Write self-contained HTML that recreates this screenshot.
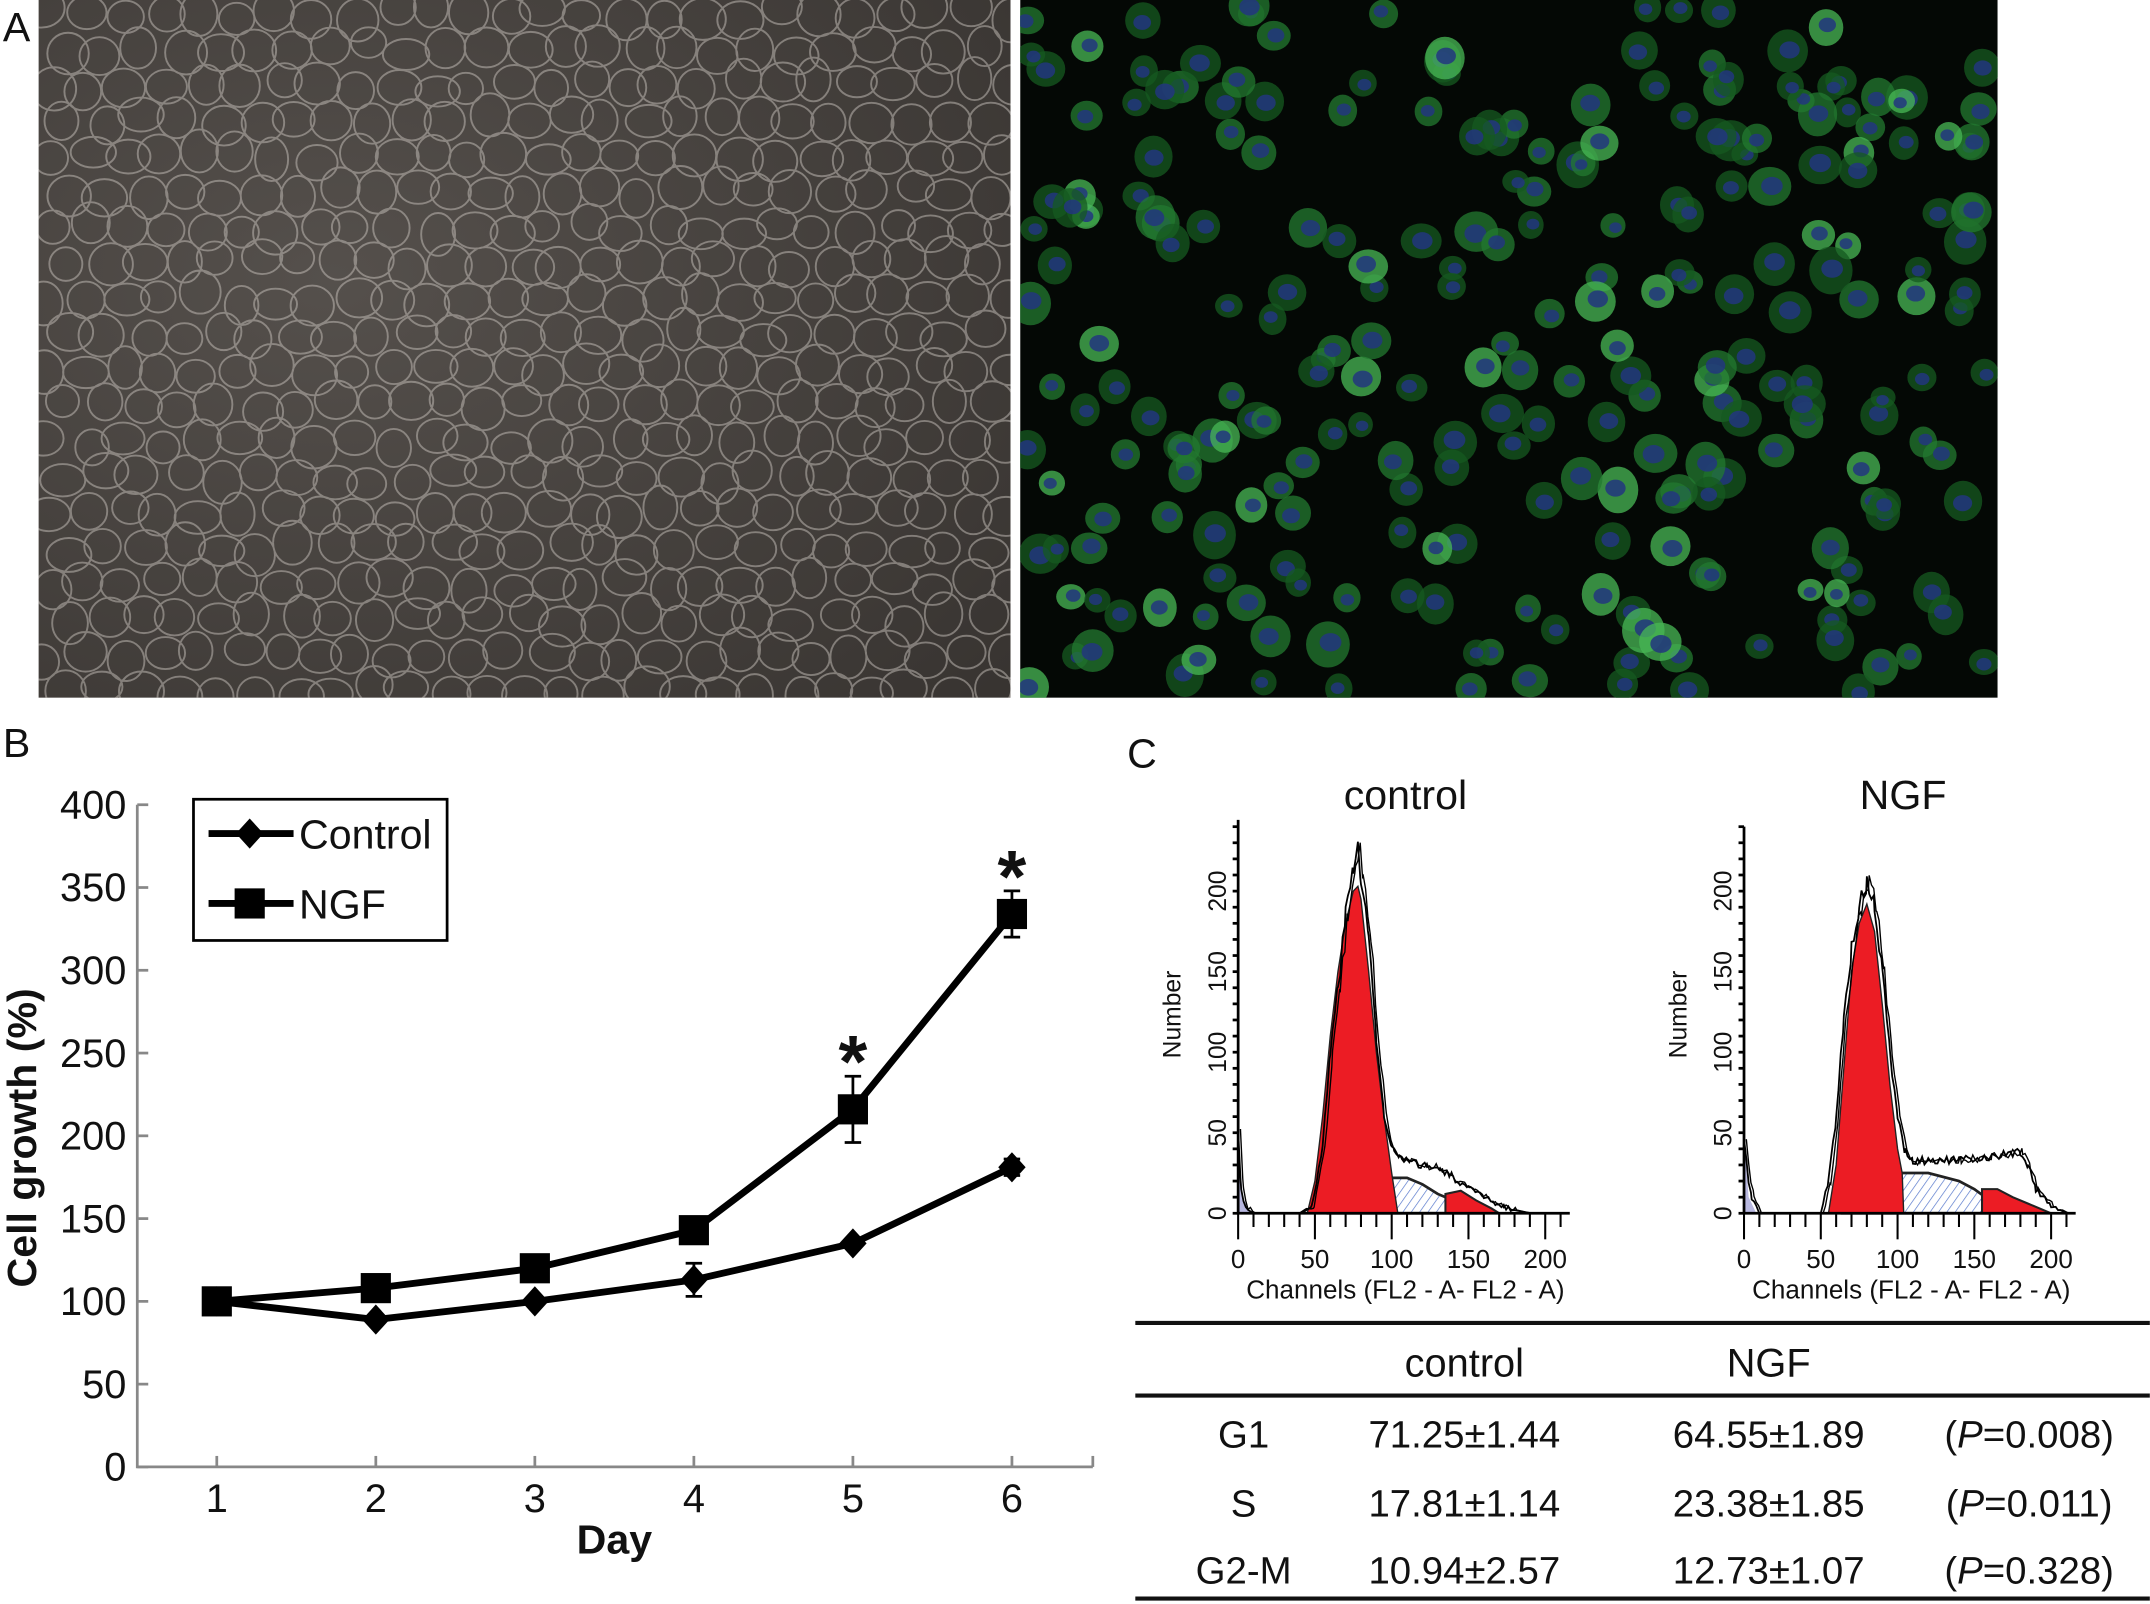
<!DOCTYPE html>
<html><head><meta charset="utf-8"><style>
html,body{margin:0;padding:0;background:#fff}
svg{display:block}
text{font-family:"Liberation Sans Narrow","Liberation Sans",sans-serif;fill:#111}
</style></head><body>
<svg id="fig" width="2150" height="1604" viewBox="0 0 1568 1170" xmlns="http://www.w3.org/2000/svg">
<defs>
<pattern id="hatch" patternUnits="userSpaceOnUse" width="5" height="5" patternTransform="rotate(35)">
<rect width="5" height="5" fill="#fff"/><line x1="0" y1="0" x2="0" y2="5" stroke="#5577cc" stroke-width="1"/></pattern>
<radialGradient id="phaseGrad" cx="0.3" cy="0.4" r="0.9"><stop offset="0" stop-color="#55504c"/><stop offset="1" stop-color="#383431"/></radialGradient>
<clipPath id="clipL"><rect x="28" y="0" width="709" height="509"/></clipPath>
<clipPath id="clipR"><rect x="744" y="0" width="713" height="509"/></clipPath>
</defs>
<text x="2" y="30" font-size="30">A</text>
<g id="micL" clip-path="url(#clipL)"><rect x="28" y="0" width="709" height="509" fill="url(#phaseGrad)"/></g>
<rect x="737" y="0" width="7" height="509" fill="#fff"/>
<g id="micR" clip-path="url(#clipR)"><rect x="744" y="0" width="713" height="509" fill="#040805"/></g>

<text x="2" y="552" font-size="30">B</text>
<g id="chartB"></g>

<text x="822" y="560" font-size="30">C</text>
<text x="1025" y="590" font-size="30" text-anchor="middle">control</text>
<text x="1388" y="590" font-size="30" text-anchor="middle">NGF</text>
<g id="histC"></g>
<g id="histN"></g>

<g font-size="28">
<line x1="828" y1="965" x2="1568" y2="965" stroke="#111" stroke-width="3"/>
<line x1="828" y1="1018" x2="1568" y2="1018" stroke="#111" stroke-width="3"/>
<line x1="828" y1="1166" x2="1568" y2="1166" stroke="#111" stroke-width="3"/>
<text x="1068" y="1004" text-anchor="middle" font-size="29">control</text>
<text x="1290" y="1004" text-anchor="middle" font-size="29">NGF</text>
<text x="907" y="1056" text-anchor="middle">G1</text>
<text x="1068" y="1056" text-anchor="middle">71.25±1.44</text>
<text x="1290" y="1056" text-anchor="middle">64.55±1.89</text>
<text x="1480" y="1056" text-anchor="middle">(<tspan font-style="italic">P</tspan>=0.008)</text>
<text x="907" y="1106" text-anchor="middle">S</text>
<text x="1068" y="1106" text-anchor="middle">17.81±1.14</text>
<text x="1290" y="1106" text-anchor="middle">23.38±1.85</text>
<text x="1480" y="1106" text-anchor="middle">(<tspan font-style="italic">P</tspan>=0.011)</text>
<text x="907" y="1155" text-anchor="middle">G2-M</text>
<text x="1068" y="1155" text-anchor="middle">10.94±2.57</text>
<text x="1290" y="1155" text-anchor="middle">12.73±1.07</text>
<text x="1480" y="1155" text-anchor="middle">(<tspan font-style="italic">P</tspan>=0.328)</text>
</g>
</svg>
<script>
// ---- chart B data ----
const days = [1, 2, 3, 4, 5, 6];
const controlValues = [100, 89, 100, 113, 135, 181];
const controlErrors = [0, 0, 0, 10, 0, 5];
const ngfValues = [100, 108, 120, 143, 216, 334];
const ngfErrors = [0, 0, 0, 0, 20, 14];
const yTicks = [0, 50, 100, 150, 200, 250, 300, 350, 400];
const sigDays = [5, 6];

// ---- histogram data (channel, count) ----
const ctlChannels = [0,2,5,10,40,48,55,60,65,70,75,78,80,85,90,95,100,105,110,120,130,140,150,160,170,180,190];
const ctlOutline  = [50,15,3,0,0,5,40,100,140,185,215,228,210,170,110,60,40,35,32,30,28,22,15,10,5,2,0];
const ctlG1Ch = [45,50,55,60,65,70,75,78,80,85,90,95,100,104];
const ctlG1   = [0,20,60,110,150,180,200,203,195,150,100,60,25,0];
const ctlSCh  = [60,70,80,90,110,120,130,140,150,160];
const ctlS    = [0,8,18,22,22,18,12,8,3,0];
const ctlG2Ch = [135,145,155,165,170];
const ctlG2   = [12,14,8,3,0];
const ngfChannels = [0,3,5,10,50,55,60,65,70,75,80,85,90,95,100,105,110,120,140,160,180,185,190,200,210];
const ngfOutline  = [45,20,10,0,0,20,60,120,165,190,205,190,150,100,60,38,32,33,33,35,38,30,15,5,0];
const ngfG1Ch = [55,60,65,70,75,80,85,90,95,100,103,104];
const ngfG1   = [0,30,90,150,180,192,175,130,80,40,25,0];
const ngfSCh  = [65,75,90,100,120,140,150,160,170,180];
const ngfS    = [0,10,20,25,25,20,15,8,3,0];
const ngfG2Ch = [155,165,175,185,195,200];
const ngfG2   = [15,15,10,6,2,0];

const NS = "http://www.w3.org/2000/svg";
function mk(tag, attrs, parent){const e=document.createElementNS(NS,tag);for(const k in attrs)e.setAttribute(k,attrs[k]);parent.appendChild(e);return e;}
function rng(a){return function(){a|=0;a=a+0x6D2B79F5|0;let t=Math.imul(a^a>>>15,1|a);t=t+Math.imul(t^t>>>7,61|t)^t;return((t^t>>>14)>>>0)/4294967296;}}

// ---- chart B ----
(function(){
  const g = document.getElementById('chartB');
  const x = d => 158 + (d-1)*116;
  const y = v => 1070 - v*483/400;
  let ax = mk('path',{d:'M100,587 L100,1070 L797,1070',fill:'none',stroke:'#888','stroke-width':2},g);
  
  
  yTicks.forEach(t=>{
    mk('line',{x1:100,x2:108,y1:y(t),y2:y(t),stroke:'#888','stroke-width':2},g);
    const tx = mk('text',{x:92,y:y(t)+10,'font-size':29,'text-anchor':'end'},g);
    tx.textContent=t;
    
    
  });
  days.forEach(d=>{
    mk('line',{x1:x(d),x2:x(d),y1:1070,y2:1062,stroke:'#888','stroke-width':2},g);
    const tx = mk('text',{x:x(d),y:1103,'font-size':29,'text-anchor':'middle'},g);
    tx.textContent=d;
    
    
  });
  mk('line',{x1:797,x2:797,y1:1070,y2:1062,stroke:'#888','stroke-width':2},g);
  const yt = mk('text',{x:0,y:0,'font-size':30,'font-weight':'bold','text-anchor':'middle',transform:'translate(26,830) rotate(-90)','font-family':'Liberation Sans, sans-serif'},g);
  yt.textContent='Cell growth (%)';
  
  
  const xt = mk('text',{x:448,y:1133,'font-size':30,'font-weight':'bold','text-anchor':'middle','font-family':'Liberation Sans, sans-serif'},g);
  xt.textContent='Day';
  
  

  function series(vals, errs, shape, name){
    const sg = mk('g',{},g);
    
    
    const l = mk('polyline',{points:vals.map((v,i)=>x(days[i])+','+y(v)).join(' '),fill:'none',stroke:'#000','stroke-width':5,'stroke-linejoin':'round'},sg);
    
    
    vals.forEach((v,i)=>{
      const cx=x(days[i]), cy=y(v);
      if(errs[i]>0){
        const e=errs[i];
        mk('path',{d:`M${cx},${y(v+e)} L${cx},${y(v-e)} M${cx-6},${y(v+e)} L${cx+6},${y(v+e)} M${cx-6},${y(v-e)} L${cx+6},${y(v-e)}`,stroke:'#000','stroke-width':2,fill:'none'},sg);
      }
      let m;
      if(shape==='sq') m = mk('rect',{x:cx-11,y:cy-11,width:22,height:22,fill:'#000'},sg);
      else m = mk('path',{d:`M${cx},${cy-11} L${cx+10},${cy} L${cx},${cy+11} L${cx-10},${cy} Z`,fill:'#000'},sg);
      
      
    });
  }
  series(controlValues, controlErrors, 'di', 'control');
  series(ngfValues, ngfErrors, 'sq', 'ngf');
  sigDays.forEach(d=>{
    const i=days.indexOf(d);
    const s=mk('text',{x:x(d),y:y(ngfValues[i]+ngfErrors[i])+8,'font-size':54,'font-weight':'bold','text-anchor':'middle','font-family':'Liberation Sans, sans-serif'},g);
    s.textContent='*';
    
    
  });
  const lg = mk('g',{},g);
  
  
  mk('rect',{x:141,y:583,width:185,height:103,fill:'#fff',stroke:'#000','stroke-width':2},lg);
  mk('line',{x1:152,x2:214,y1:608,y2:608,stroke:'#000','stroke-width':5},lg);
  mk('path',{d:'M182,597 L192,608 L182,619 L172,608 Z',fill:'#000'},lg);
  const t1=mk('text',{x:218,y:619,'font-size':30},lg); t1.textContent='Control';
  
  
  mk('line',{x1:152,x2:214,y1:659,y2:659,stroke:'#000','stroke-width':5},lg);
  mk('rect',{x:171,y:648,width:22,height:22,fill:'#000'},lg);
  const t2=mk('text',{x:218,y:670,'font-size':30},lg); t2.textContent='NGF';
  
  
})();

// ---- histograms ----
function drawHist(id, ox, top, ch, outline, g1c, g1, sc, s, g2c, g2, seed){
  const g = document.getElementById(id);
  const hx = c => ox + c*1.12, hy = n => 885 - n*1.175;
  const area = (cs,vs)=>'M'+hx(cs[0])+','+hy(0)+' '+cs.map((c,i)=>'L'+hx(c)+','+hy(vs[i])).join(' ')+' L'+hx(cs[cs.length-1])+','+hy(0)+'Z';
  mk('path',{d:'M'+hx(0)+','+hy(0)+' L'+hx(0)+','+hy(48)+' L'+hx(3)+','+hy(10)+' L'+hx(8)+','+hy(0)+'Z',fill:'#b8b8e0'},g);
  const sp=mk('path',{d:area(sc,s),fill:'url(#hatch)',stroke:'#222','stroke-width':2},g);
  
  
  const r1=mk('path',{d:area(g1c,g1),fill:'#ec1c24',stroke:'#222','stroke-width':1},g);
  
  
  const r2=mk('path',{d:area(g2c,g2),fill:'#ec1c24',stroke:'#222','stroke-width':1.5},g);
  
  
  // interpolate outline per channel with jitter (texture only, anchored to data)
  const r=rng(seed);
  function jagged(off, scale){
    const pts=[];
    for(let i=0;i<ch.length-1;i++){
      const c0=ch[i],c1=ch[i+1];
      for(let c=c0;c<c1;c+=1.5){
        const f=(c-c0)/(c1-c0), v=outline[i]+(outline[i+1]-outline[i])*f;
        const j = v>2 ? (r()-0.5)*Math.min(12, 3+v*0.06)*scale : 0;
        pts.push(hx(c+off)+','+hy(Math.max(0,v+j)));
      }
    }
    pts.push(hx(ch[ch.length-1])+','+hy(0));
    return pts.join(' ');
  }
  const ol=mk('polyline',{points:jagged(0,1),fill:'none',stroke:'#000','stroke-width':1.3},g);
  
  
  mk('polyline',{points:jagged(1.5,1),fill:'none',stroke:'#000','stroke-width':1},g);
  mk('path',{d:`M${ox},${top} L${ox},${hy(0)} L${hx(216)},${hy(0)}`,fill:'none',stroke:'#000','stroke-width':2},g);
  for(let n=0;n<=240;n+=10){ if(hy(n)<top) break; mk('line',{x1:ox-4,x2:ox,y1:hy(n),y2:hy(n),stroke:'#000','stroke-width':2},g); }
  for(let c=0;c<=210;c+=10){ const big=c%50===0; mk('line',{x1:hx(c),x2:hx(c),y1:hy(0),y2:hy(0)+(big?19:10),stroke:'#000','stroke-width':1.5},g); }
  [0,50,100,150,200].forEach(n=>{
    const t=mk('text',{x:0,y:0,'font-size':18,'text-anchor':'middle',transform:`translate(${ox-9},${hy(n)}) rotate(-90)`,'font-family':'Liberation Sans, sans-serif'},g);
    t.textContent=n;
    
    
    const u=mk('text',{x:hx(n),y:925,'font-size':19,'text-anchor':'middle'},g);
    u.textContent=n;
    
    
  });
  const yl=mk('text',{x:0,y:0,'font-size':18,'text-anchor':'middle',transform:`translate(${ox-42},740) rotate(-90)`,'font-family':'Liberation Sans, sans-serif'},g);
  yl.textContent='Number';
  
  
  const xl=mk('text',{x:ox+122,y:947,'font-size':19,'text-anchor':'middle'},g);
  xl.textContent='Channels (FL2 - A- FL2 - A)';
  
  
}
drawHist('histC',903,598,ctlChannels,ctlOutline,ctlG1Ch,ctlG1,ctlSCh,ctlS,ctlG2Ch,ctlG2,3);
drawHist('histN',1272,603,ngfChannels,ngfOutline,ngfG1Ch,ngfG1,ngfSCh,ngfS,ngfG2Ch,ngfG2,5);

// ---- micrographs (decorative texture) ----
(function(){
  const g=document.getElementById('micL'); const r=rng(7);
  let d='';
  for(let yy=10; yy<509; yy+=26){
    for(let xx=35+(Math.round(yy/26)%2)*13; xx<737; xx+=28){
      const cx=xx+(r()-0.5)*10, cy=yy+(r()-0.5)*10, rx=12+r()*5, ry=11+r()*5;
      d+=`M${cx-rx},${cy} a${rx},${ry} 0 1,0 ${2*rx},0 a${rx},${ry} 0 1,0 ${-2*rx},0 `;
    }
  }
  mk('path',{d:d,fill:'none',stroke:'#c8c2bc','stroke-width':1.4,opacity:0.5},g);
})();
(function(){
  const g=document.getElementById('micR'); const r=rng(11);
  for(let i=0;i<260;i++){
    const cx=748+r()*705, cy=4+r()*502, rad=9+r()*7, br=r();
    const col = br>0.9?'#48b855':(br>0.5?'#237a30':'#165a20');
    mk('ellipse',{cx:cx,cy:cy,rx:rad,ry:rad*(0.85+r()*0.3),fill:col,opacity:0.75},g);
    mk('ellipse',{cx:cx+(r()-0.5)*4,cy:cy+(r()-0.5)*4,rx:rad*0.5,ry:rad*0.42,fill:'#22367f',opacity:0.85},g);
  }
})();
</script>
</body></html>
